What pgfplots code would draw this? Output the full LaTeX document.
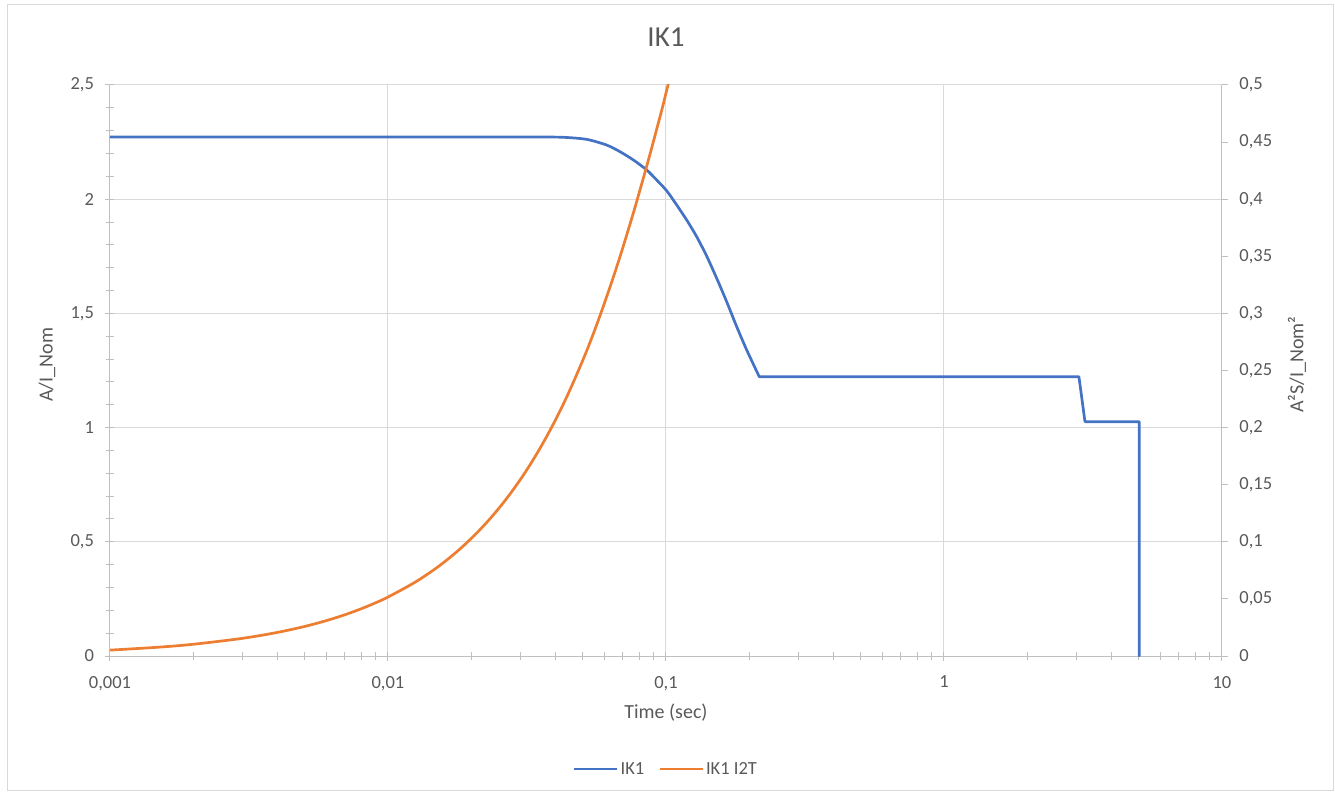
\documentclass[border=0pt]{standalone}
\usepackage{fontspec}
\setmainfont{Carlito}
\usepackage{pgfplots}
\pgfplotsset{compat=1.18}
\definecolor{ikblue}{HTML}{4472C4}
\definecolor{ikorange}{HTML}{ED7D31}
\definecolor{txtgray}{HTML}{595959}
\definecolor{axgray}{HTML}{BFBFBF}
\definecolor{gridgray}{HTML}{D9D9D9}

\begin{document}
\begin{tikzpicture}
\useasboundingbox (0pt,0pt) rectangle (1335pt,796pt);
\draw[gridgray, line width=1pt] (7pt,6pt) rectangle (1333pt,791pt);

% left axis: IK1
\begin{axis}[
  at={(110pt,140pt)}, anchor=south west,
  scale only axis, width=1112pt, height=571pt,
  xmode=log, xmin=0.001, xmax=10,
  axis line style={axgray, line width=1pt, -},
  tick style={axgray, line width=1pt},
  tick label style={text=txtgray, font=\fontsize{18.5}{22}\selectfont},
  xticklabel style={yshift=-12pt},
  yticklabel style={xshift=-8pt},
  axis x line*=bottom, axis y line*=left,
  ymin=0, ymax=2.5,
  xtick={0.001,0.01,0.1,1,10},
  xticklabels={{0,001},{0,01},{0,1},1,10},
  ytick={0,0.5,1,1.5,2,2.5},
  yticklabels={0,{0,5},1,{1,5},2,{2,5}},
  minor ytick={0.1,0.2,0.3,0.4,0.6,0.7,0.8,0.9,1.1,1.2,1.3,1.4,1.6,1.7,1.8,1.9,2.1,2.2,2.3,2.4},
  tick align=center,
  major tick length=9pt, minor tick length=8pt,
  xmajorgrids, ymajorgrids,
  major grid style={gridgray, line width=1pt},
  xlabel={Time (sec)},
  ylabel={A/I\_Nom},
  every axis x label/.style={at={(axis description cs:0.5,-0.0998)}, anchor=center,
    text=txtgray, font=\fontsize{20}{24}\selectfont},
  every axis y label/.style={at={(axis description cs:-0.0567,0.51)}, anchor=center, rotate=90,
    text=txtgray, font=\fontsize{20}{24}\selectfont},
  title={IK1},
  title style={at={(axis description cs:0.5,1.0736)}, anchor=center, text=txtgray, font=\fontsize{29}{34}\selectfont},
]
% curved part of IK1
\addplot[ikblue, line width=2.7pt, line cap=round, smooth, tension=0.45] coordinates {
(0.001,2.272) (0.02,2.272) (0.035,2.272) (0.04272,2.271) (0.05185,2.262) (0.0612,2.237)
(0.06832,2.208) (0.07629,2.172) (0.08524,2.128) (0.09259,2.084) (0.10058,2.037)
(0.10926,1.975) (0.11871,1.909) (0.12895,1.836) (0.14009,1.751) (0.1522,1.654)
(0.16534,1.551) (0.17964,1.442) (0.19515,1.340) (0.21655,1.223)
};
% steps of IK1
\addplot[ikblue, line width=2.7pt, line cap=round, line join=round] coordinates {
(0.21655,1.223) (3.058,1.223) (3.128,1.135) (3.215,1.026) (5.04,1.026) (5.04,0)
};
\end{axis}

% right axis: IK1 I2T
\begin{axis}[
  at={(110pt,140pt)}, anchor=south west,
  scale only axis, width=1112pt, height=571pt,
  xmode=log, xmin=0.001, xmax=10,
  axis line style={axgray, line width=1pt, -},
  tick style={axgray, line width=1pt},
  tick label style={text=txtgray, font=\fontsize{18.5}{22}\selectfont},
  yticklabel style={xshift=8pt},
  axis x line=none, axis y line*=right,
  ymin=0, ymax=0.5,
  ytick={0,0.05,0.1,0.15,0.2,0.25,0.3,0.35,0.4,0.45,0.5},
  yticklabels={0,{0,05},{0,1},{0,15},{0,2},{0,25},{0,3},{0,35},{0,4},{0,45},{0,5}},
  tick align=outside, major tick length=6pt,
  ylabel={A²S/I\_Nom²},
  every axis y label/.style={at={(axis description cs:1.0674,0.51)}, anchor=center, rotate=90,
    text=txtgray, font=\fontsize{20}{24}\selectfont},
  legend style={at={(axis description cs:0.5,-0.198)}, anchor=center, draw=none,
    fill=none, text=txtgray, font=\fontsize{18.5}{22}\selectfont,
    legend columns=2, /tikz/every even column/.append style={column sep=12pt}},
  legend image code/.code={\draw[#1] (0pt,0pt) -- (43pt,0pt);},
]
\addlegendimage{ikblue, line width=2.7pt}
\addlegendentry{IK1}
\addplot[ikorange, line width=2.7pt, smooth, tension=0.5] coordinates {
(0.001,0.00515) (0.0015,0.00774) (0.002,0.01032) (0.003,0.01549) (0.004,0.02065)
(0.005,0.02581) (0.006,0.03097) (0.007,0.03613) (0.008,0.04130) (0.009,0.04646)
(0.01,0.05162) (0.0125,0.06453) (0.015,0.07743) (0.0175,0.09034) (0.02,0.10324)
(0.0225,0.11615) (0.025,0.12905) (0.0275,0.14196) (0.03,0.15486) (0.0325,0.16777)
(0.035,0.18067) (0.0375,0.19358) (0.04,0.2065) (0.04272,0.2205) (0.045,0.2323)
(0.0485,0.2503) (0.05185,0.2672) (0.0555,0.2858) (0.0595,0.3061) (0.0638,0.3275)
(0.0683,0.3495) (0.0726,0.3704) (0.0768,0.3901) (0.081,0.4098) (0.0852,0.4287)
(0.0891,0.4460) (0.0929,0.4626) (0.0968,0.4790) (0.1006,0.4954) (0.1093,0.5301)
(0.1187,0.5658)
};
\addlegendentry{IK1 I2T}
\end{axis}
\end{tikzpicture}
\end{document}
